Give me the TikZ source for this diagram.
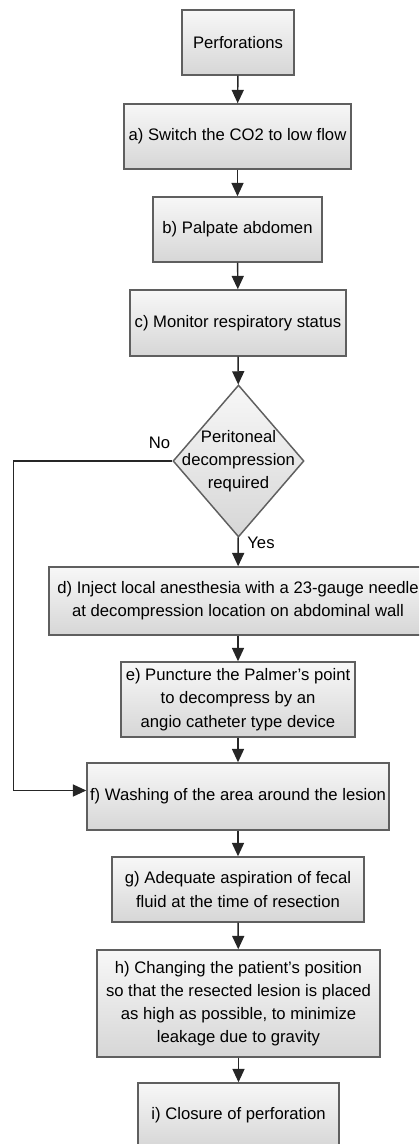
\documentclass[tikz,border=0pt]{standalone}
\usepackage{fontspec}
\setmainfont{Liberation Sans}
\usepackage{xcolor}
\definecolor{borde}{RGB}{95, 95, 95}
\usepackage{tikz}
\usetikzlibrary{positioning, shapes.geometric, arrows.meta}

\begin{document}
\begin{tikzpicture}[x=0.75pt, y=-0.75pt,
  stepbox/.style={rectangle, draw=borde, line width=1.1pt, top color=gray!6, bottom color=gray!32, font=\fontsize{12.5}{17.4}\selectfont, align=center, inner sep=2pt, minimum height=48.75pt},
  decision/.style={diamond, draw=borde, line width=1.1pt, top color=gray!6, bottom color=gray!32, inner sep=0pt, minimum width=98.25pt, minimum height=114pt},
  flow/.style={draw=black!85, line width=1.1pt, -{Triangle[length=10pt, width=9pt]}},
  tag/.style={font=\fontsize{12.5}{17.4}\selectfont}
]
  \useasboundingbox (0,0) rectangle (419,1144);
  \clip (0,0) rectangle (419,1144);

  \node[stepbox, minimum width=84pt] (perf) at (238,42.5) {Perforations};
  \node[stepbox, minimum width=170.25pt] (co2) at (237.5,136.5) {a) Switch the CO2 to low flow};
  \node[stepbox, minimum width=126.75pt] (palp) at (237.5,229.5) {b) Palpate abdomen};
  \node[stepbox, minimum width=162pt, minimum height=49.5pt] (resp) at (238,323) {c) Monitor respiratory status};
  \node[decision, label={[tag, align=center]center:Peritoneal\\decompression\\required}] (dec) at (238.5,461) {};
  \node[stepbox, minimum width=283.5pt, minimum height=51pt] (anes) at (238,601) {d) Inject local anesthesia with a 23-gauge needle\\at decompression location on abdominal wall};
  \node[stepbox, minimum width=175.5pt, minimum height=56.25pt] (punc) at (238,699.5) {e) Puncture the Palmer's point\\to decompress by an\\angio catheter type device};
  \node[stepbox, minimum width=226.5pt, minimum height=50.25pt] (wash) at (238,796.5) {f) Washing of the area around the lesion};
  \node[stepbox, minimum width=189pt] (aspi) at (238,889.5) {g) Adequate aspiration of fecal\\fluid at the time of resection};
  \node[stepbox, minimum width=212.25pt, minimum height=80.25pt] (posi) at (238.5,1003.5) {h) Changing the patient's position\\so that the resected lesion is placed\\as high as possible, to minimize\\leakage due to gravity};
  \node[stepbox, minimum width=150.75pt] (clos) at (238.5,1115.5) {i) Closure of perforation};

  \draw[flow] (perf) -- (co2);
  \draw[flow] (co2) -- (palp);
  \draw[flow] (palp) -- (resp);
  \draw[flow] (resp) -- (dec);
  \draw[flow] (dec) -- (anes) node[tag, pos=0.2, right, xshift=3pt] {Yes};
  \draw[flow] (anes) -- (punc);
  \draw[flow] (punc) -- (wash);
  \draw[flow] (dec.west) -- ++(-159,0) node[tag, pos=0.08, above, yshift=5pt] {No} |- ([yshift=4.5pt]wash.west);
  \draw[flow] (wash) -- (aspi);
  \draw[flow] (aspi) -- (posi);
  \draw[flow] (posi) -- (clos);
\end{tikzpicture}
\end{document}
